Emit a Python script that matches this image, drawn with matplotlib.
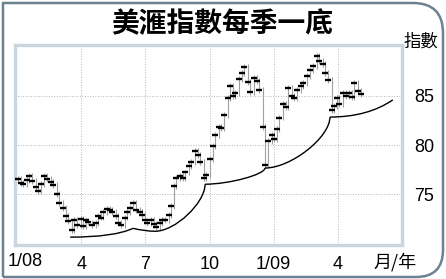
import numpy as np
import pandas as pd
import matplotlib
matplotlib.use('Agg')
import matplotlib.pyplot as plt
from matplotlib.path import Path
from matplotlib.patches import PathPatch

plt.rcParams['font.family'] = ['Liberation Sans', 'Noto Sans CJK TC', 'DejaVu Sans']

# 美滙指數收市 (每3個交易日一點, 由2008-01-02起)
closes = [
    76.5, 76.1, 76.0, 76.4, 76.8, 76.3, 75.7, 75.3, 76.0, 76.8,
    76.5, 76.2, 75.9, 75.0, 74.1, 73.6, 72.8, 72.2, 71.3, 72.4,
    71.8, 72.5, 71.7, 72.3, 72.1, 71.8, 72.0, 72.8, 72.6, 73.2,
    73.5, 73.4, 73.2, 72.8, 72.0, 71.8, 72.6, 73.2, 73.6, 74.1,
    73.4, 73.2, 72.9, 72.3, 72.0, 72.4, 71.9, 71.6, 72.0, 72.4,
    72.3, 72.9, 73.8, 75.8, 76.6, 76.8, 76.6, 77.2, 77.9, 78.3,
    79.4, 79.0, 78.3, 76.6, 76.9, 78.6, 79.9, 81.0, 81.8, 81.7,
    83.1, 84.8, 86.0, 85.0, 85.3, 86.7, 87.3, 88.0, 86.4, 85.4,
    86.8, 86.5, 85.6, 81.8, 78.0, 80.4, 81.0, 80.6, 81.6, 82.8,
    84.2, 83.9, 85.8, 85.0, 84.8, 85.6, 86.0, 86.3, 87.0, 87.6,
    88.1, 89.1, 88.6, 88.3, 87.3, 86.6, 83.6, 84.0, 84.8, 84.2,
    85.3, 85.0, 85.3, 84.9, 86.3, 85.5, 85.2,
]

# 每季低點 (月份由2008年1月起計, 指數)
low_m = [2.48, 5.42, 6.45, 8.79, 11.59, 14.63, 17.57]
low_v = [70.6, 71.5, 71.2, 76.0, 77.65, 82.85, 84.6]

tick_m = [3, 6, 9, 12, 15]
tick_lbl = ['4', '7', '10', '1/09', '4']
y_ticks = [75, 80, 85]

dates = pd.bdate_range('2008-01-02', periods=len(closes), freq='3B')
xm = (dates.year - 2008) * 12 + dates.month - 1 + (dates.day - 1) / dates.days_in_month
xm = np.asarray(xm, dtype=float)
c = np.array(closes)

W, H = 446, 279
fig = plt.figure(figsize=(W / 100, H / 100), dpi=100)
fig.patch.set_facecolor('white')


def px(x, y):
    return (x / W, 1 - y / H)


# 外框 (右邊圓角)
verts = [px(3, 277), px(3, 3), px(413, 3), px(443, 3), px(443, 33),
         px(443, 250), px(443, 277), px(416, 277), px(3, 277)]
codes = [Path.MOVETO, Path.LINETO, Path.LINETO, Path.CURVE3, Path.CURVE3,
         Path.LINETO, Path.CURVE3, Path.CURVE3, Path.LINETO]
fig.patches.append(PathPatch(Path(verts, codes), transform=fig.transFigure,
                             fill=False, edgecolor='#6d8290', lw=1.8))

ax = fig.add_axes([15 / W, 1 - 245 / H, 387 / W, 200 / H])
ax.set_xlim(-0.1, 18)
ax.set_ylim(69.8, 90.2)

# 價格棒: 灰色範圍線 + 黑色收市點
prev = np.concatenate([[c[0]], c[:-1]])
ax.vlines(xm, np.minimum(prev, c) - 0.3, np.maximum(prev, c) + 0.3,
          color='#a0a0a0', lw=0.8, zorder=3)
ax.plot(xm, c, ls='none', marker='_', ms=4, mew=1.7, color='black', zorder=4)

# 每季一底弧線
for i in range(len(low_m) - 1):
    x0, y0, x1, y1 = low_m[i], low_v[i], low_m[i + 1], low_v[i + 1]
    dx, dy = x1 - x0, y1 - y0
    if i == 0 or i == len(low_m) - 2:
        f = 0.7 if i == 0 else 0.6
        verts = [(x0, y0), (x0 + f * dx, y0), (x1, y1)]
        codes = [Path.MOVETO, Path.CURVE3, Path.CURVE3]
    elif i == 1:
        verts = [(x0, y0), (x0 + 0.55 * dx, y1), (x1, y1)]
        codes = [Path.MOVETO, Path.CURVE3, Path.CURVE3]
    else:
        k = 0.4
        verts = [(x0, y0), (x0 + k * dx, y0), (x1, y1 - k * dy), (x1, y1)]
        codes = [Path.MOVETO, Path.CURVE4, Path.CURVE4, Path.CURVE4]
    ax.add_patch(PathPatch(Path(verts, codes), fill=False, edgecolor='black',
                           lw=1.0, zorder=5))

ax.set_xticks(tick_m)
ax.set_xticklabels(tick_lbl)
ax.set_yticks(y_ticks)
ax.yaxis.tick_right()
ax.tick_params(axis='both', length=0, labelsize=13)
ax.tick_params(axis='y', pad=9)
ax.tick_params(axis='x', pad=8)
ax.grid(True, ls=':', color='#b5b5b5', lw=0.7)
ax.set_axisbelow(True)
for s in ax.spines.values():
    s.set_color('#c9d6df')
    s.set_linewidth(2.4)

fig.text(*px(25, 262), '1/08', fontsize=13, ha='center', va='center')
fig.text(*px(395, 262), '月/年', fontsize=13, ha='center', va='center',
         family=['Noto Sans CJK TC', 'DejaVu Sans'])
fig.text(*px(421, 42), '指數', fontsize=12.5, ha='center', va='center',
         family=['Noto Sans CJK TC', 'DejaVu Sans'])
fig.text(*px(222, 24), '美滙指數每季一底', fontsize=20, ha='center', va='center',
         weight='heavy', family=['Noto Sans CJK TC', 'DejaVu Sans'])

fig.savefig('out.png', dpi=100)
